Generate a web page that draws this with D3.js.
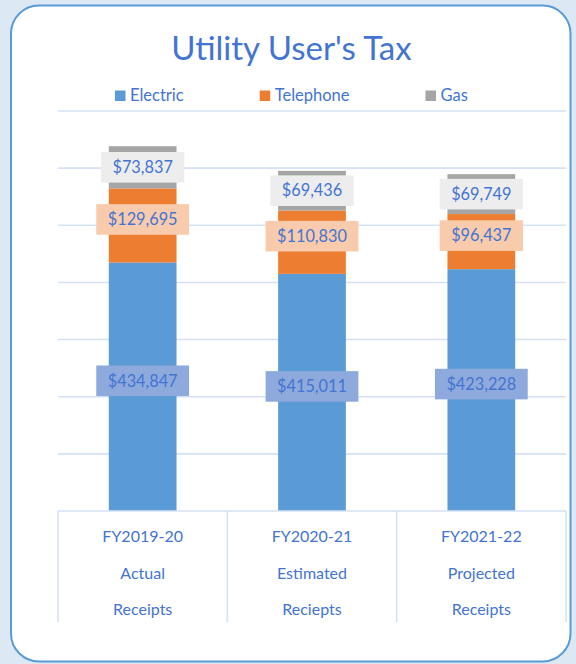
<!DOCTYPE html>
<html>
<head>
<meta charset="utf-8">
<script src="https://cdn.jsdelivr.net/npm/d3@7"></script>
<style>
  html, body { margin: 0; padding: 0; background: #dde8f5; }
  svg { display: block; }
  text { font-family: Lato, "Noto Sans", sans-serif; }
</style>
</head>
<body>
<svg id="chart" width="576" height="664"></svg>
<script>
// ---- data ----
const categories = ["FY2019-20", "FY2020-21", "FY2021-22"];
const categoryLine2 = ["Actual", "Estimated", "Projected"];
const categoryLine3 = ["Receipts", "Reciepts", "Receipts"];
const seriesNames = ["Electric", "Telephone", "Gas"];
const electric = [434847, 415011, 423228];
const telephone = [129695, 110830, 96437];
const gas = [73837, 69436, 69749];
const yTicks = [100000, 200000, 300000, 400000, 500000, 600000, 700000];

// ---- styles ----
const colors = { Electric: "#5b9bd5", Telephone: "#ed7d31", Gas: "#a5a5a5" };
const labelFill = { Electric: "#8eaadc", Telephone: "#f8cbad", Gas: "#ededed" };
const labelNudge = { Electric: -6, Telephone: -6, Gas: 0 };
const textBlue = "#4374d2";
const gridColor = "#d5e1f4";

const svg = d3.select("#chart");

// card
svg.append("rect")
  .attr("x", 11).attr("y", 5.5).attr("width", 559.5).attr("height", 656)
  .attr("rx", 28).attr("ry", 28)
  .attr("fill", "#ffffff").attr("stroke", "#5b9bd5").attr("stroke-width", 2);

// rows
const rows = categories.map((c, i) => ({
  category: c, Electric: electric[i], Telephone: telephone[i], Gas: gas[i], idx: i
}));
const stacked = d3.stack().keys(seriesNames)(rows);

// scales
const x = d3.scaleBand().domain(categories).range([58, 566])
  .paddingInner(0.6).paddingOuter(0.3);
const xCell = d3.scaleBand().domain(categories).range([58, 566]).padding(0);
const y = d3.scaleLinear().domain([0, 700000]).range([511, 111]);

// title
svg.append("text")
  .attr("x", 291.5).attr("y", 60)
  .attr("text-anchor", "middle")
  .attr("font-size", 33)
  .attr("fill", textBlue)
  .text("Utility User's Tax");

// gridlines
svg.append("g").selectAll("line").data(yTicks).join("line")
  .attr("x1", 58).attr("x2", 566)
  .attr("y1", d => y(d)).attr("y2", d => y(d))
  .attr("stroke", gridColor).attr("stroke-width", 1.6);

// legend
const legend = svg.append("g");
let lx = 115;
seriesNames.forEach(name => {
  legend.append("rect")
    .attr("x", lx).attr("y", 90.5).attr("width", 10.5).attr("height", 10.5)
    .attr("fill", colors[name]);
  const t = legend.append("text")
    .attr("x", lx + 15).attr("y", 101)
    .attr("font-size", 16.5).attr("fill", textBlue)
    .text(name);
  lx = lx + 15 + t.node().getComputedTextLength() + 76;
});

// bars
const barG = svg.append("g");
stacked.forEach(layer => {
  barG.append("g").selectAll("rect").data(layer).join("rect")
    .attr("x", d => x(d.data.category))
    .attr("width", x.bandwidth())
    .attr("y", d => y(d[1]))
    .attr("height", d => y(d[0]) - y(d[1]))
    .attr("fill", colors[layer.key]);
});

// category axis
const axisG = svg.append("g");
axisG.append("line")
  .attr("x1", 58).attr("x2", 566).attr("y1", y(0)).attr("y2", y(0))
  .attr("stroke", gridColor).attr("stroke-width", 1.6);
const bounds = categories.map(c => xCell(c)).concat([566]);
axisG.selectAll("line.div").data(bounds).join("line")
  .attr("class", "div")
  .attr("x1", d => d).attr("x2", d => d)
  .attr("y1", y(0)).attr("y2", 622)
  .attr("stroke", gridColor).attr("stroke-width", 1.6);
categories.forEach((c, i) => {
  const cx = xCell(c) + xCell.bandwidth() / 2;
  [c, categoryLine2[i], categoryLine3[i]].forEach((line, j) => {
    axisG.append("text")
      .attr("x", cx).attr("y", [542, 578.5, 615][j])
      .attr("text-anchor", "middle")
      .attr("font-size", 16).attr("fill", textBlue)
      .text(line);
  });
});

// data labels
const fmt = d => "$" + d3.format(",")(d);
const labelG = svg.append("g");
stacked.forEach(layer => {
  layer.forEach(d => {
    const v = d.data[layer.key];
    const cx = x(d.data.category) + x.bandwidth() / 2;
    const cy = (y(d[0]) + y(d[1])) / 2 + labelNudge[layer.key];
    const g = labelG.append("g");
    const rect = g.append("rect").attr("fill", labelFill[layer.key]);
    const t = g.append("text")
      .attr("x", cx).attr("y", cy + 5.8)
      .attr("text-anchor", "middle")
      .attr("font-size", 16.3).attr("fill", textBlue)
      .text(fmt(v));
    const w = t.node().getComputedTextLength() + 23;
    rect.attr("x", cx - w / 2).attr("y", cy - 15.3)
      .attr("width", w).attr("height", 30.6);
  });
});
</script>
</body>
</html>
